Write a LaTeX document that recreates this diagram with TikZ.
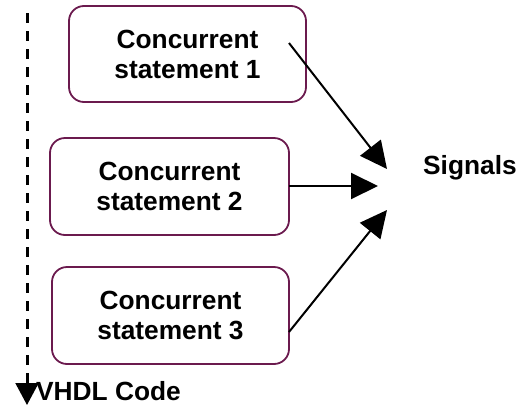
\documentclass[tikz,border=0pt]{standalone}
\usepackage{fontspec}
\setmainfont{Liberation Sans}
\usetikzlibrary{arrows.meta}
\definecolor{boxc}{HTML}{6B1A4E}
\begin{document}
\begin{tikzpicture}[x=1pt,y=-1pt,
  stmt/.style={draw=boxc,line width=1.8pt,rounded corners=15pt,align=center,
    font=\fontsize{26.3}{30}\selectfont\bfseries,inner sep=0pt},
  lbl/.style={font=\fontsize{26.3}{30}\selectfont\bfseries,inner sep=0pt},
  arr/.style={line width=2pt,-{Triangle[length=27pt,width=26pt]}}]
\useasboundingbox (0,0) rectangle (523,405);
\node[stmt,minimum width=237pt,minimum height=96pt] (s1) at (187.5,54) {Concurrent\\statement 1};
\node[stmt,minimum width=239pt,minimum height=97pt] (s2) at (169.5,186.5) {Concurrent\\statement 2};
\node[stmt,minimum width=237pt,minimum height=97pt] (s3) at (170.5,315.5) {Concurrent\\statement 3};
\node[lbl,anchor=base west] (sig) at (423,174) {Signals};
\node[lbl,anchor=base west] (vhdl) at (36,400) {VHDL Code};
\coordinate (a1s) at (289,43);
\coordinate (a1e) at (387,169);
\coordinate (a2s) at (289,186);
\coordinate (a2e) at (378,186);
\coordinate (a3s) at (289,332);
\coordinate (a3e) at (387,210);
\draw[arr] (a1s) -- (a1e);
\draw[arr] (a2s) -- (a2e);
\draw[arr] (a3s) -- (a3e);
\coordinate (d0) at (27,13);
\coordinate (d1) at (27,405);
\draw[line width=3pt,dash pattern=on 10pt off 8pt] (d0) -- (27,384);
\draw[line width=2pt,-{Triangle[length=22pt,width=23pt]}] (27,380) -- (d1);
\end{tikzpicture}
\end{document}
